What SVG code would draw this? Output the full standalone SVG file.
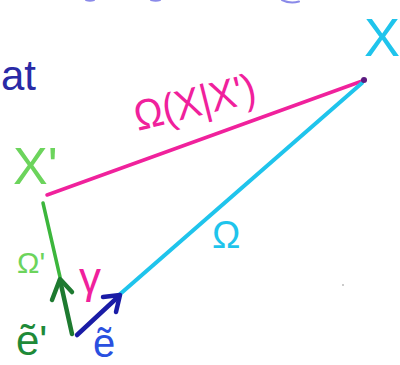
<svg xmlns="http://www.w3.org/2000/svg" width="400" height="365" viewBox="0 0 400 365">
<style>
.ln{fill:none;stroke-linecap:round;stroke-linejoin:round}
.t{font-family:"Liberation Sans","DejaVu Sans",sans-serif}
</style>
<rect width="400" height="365" fill="#ffffff"/>
<g id="top-fragments" class="ln" stroke="#5a5ae0" stroke-width="2" opacity="0.7">
<path d="M86 0 Q90 1.5 94 0"/>
<path d="M151 0 Q156 1.5 160 0"/>
<path d="M282 0 Q290 4 299 1.5"/>
</g>
<g id="connectors" class="ln">
<path d="M47 195 Q200 140 365 80" stroke="#f0219c" stroke-width="3.5"/>
<path d="M119 295 L362 83" stroke="#1fc4ec" stroke-width="4"/>
<path d="M43 203 L60 277" stroke="#3cb63c" stroke-width="3.5"/>
<path d="M72 334 L60 280" stroke="#1e7a30" stroke-width="4.5"/>
<path d="M52 300 L60 279 L72 292" stroke="#1e7a30" stroke-width="4.5"/>
<path d="M77 335 L119 296" stroke="#1a1ca6" stroke-width="4.5"/>
<path d="M103 297 L120 295 L116 312" stroke="#1a1ca6" stroke-width="4.5"/>
<circle cx="364" cy="80" r="3" fill="#5a1a80"/>
</g>
<g id="node-X">
<text class="t" x="364" y="56" font-size="54" fill="#1fc4ec">X</text>
</g>
<g id="node-at">
<text class="t" x="1" y="90" font-size="42" fill="#2a2aa6">at</text>
</g>
<g id="label-omega-xx">
<text class="t" x="0" y="0" font-size="42" fill="#f0219c" textLength="124" lengthAdjust="spacingAndGlyphs" transform="translate(138 131) rotate(-14)">Ω(X|X')</text>
</g>
<g id="node-Xprime">
<text class="t" x="13" y="184" font-size="52" fill="#6cd45c">X'</text>
</g>
<g id="label-omega-prime">
<text class="t" x="17" y="273" font-size="30" fill="#6cd45c">Ω'</text>
</g>
<g id="label-gamma">
<text class="t" x="79" y="293" font-size="44" fill="#f0219c">γ</text>
</g>
<g id="label-omega">
<text class="t" x="212" y="248" font-size="38" fill="#1fc4ec">Ω</text>
</g>
<g id="label-eprime">
<text class="t" x="16" y="355" font-size="42" fill="#1e8a38">ẽ'</text>
</g>
<g id="label-e">
<text class="t" x="93" y="357" font-size="40" fill="#2a50e0">ẽ</text>
</g>
<circle cx="343" cy="285" r="0.8" fill="#888888"/>
</svg>
